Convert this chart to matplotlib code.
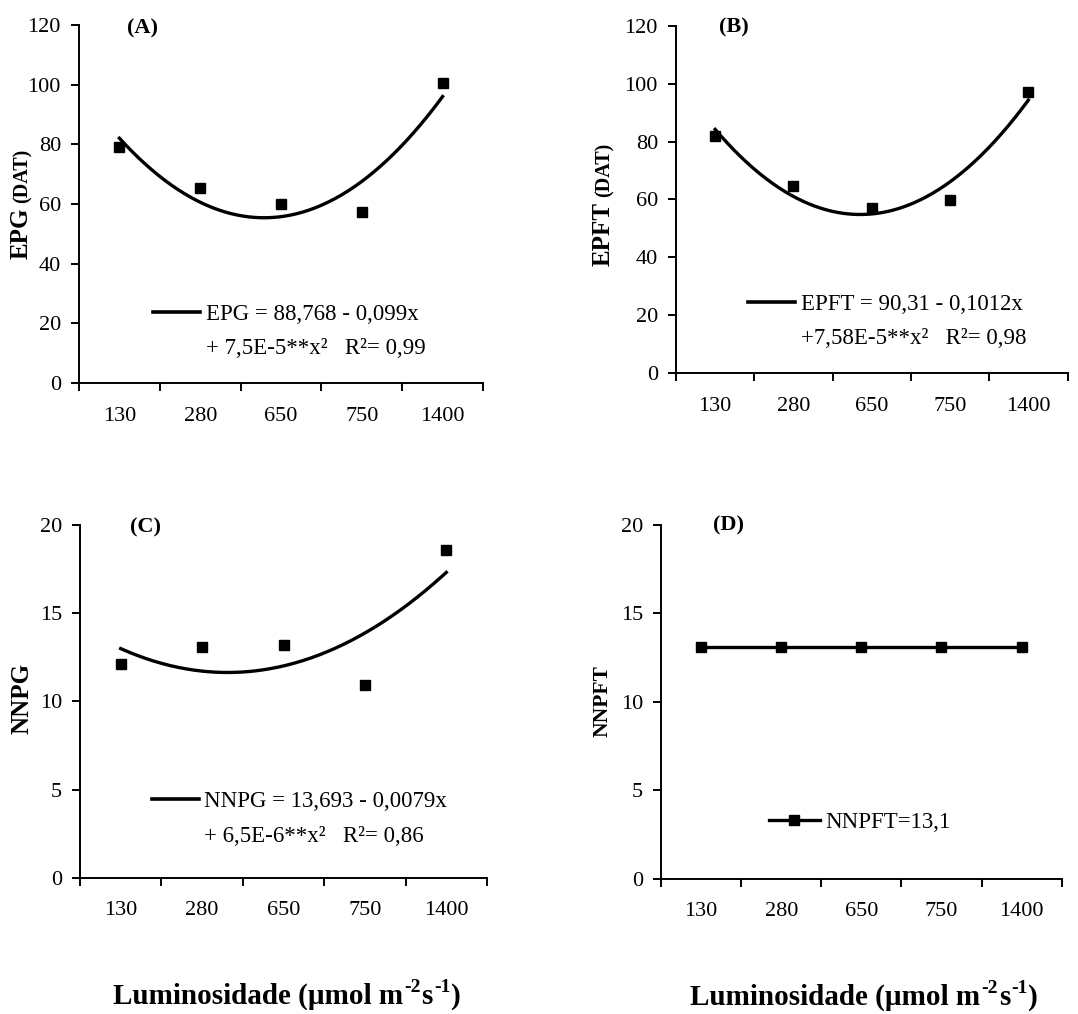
import numpy as np
import matplotlib
matplotlib.use('Agg')
import matplotlib.pyplot as plt
from matplotlib.lines import Line2D

plt.rcParams['font.family'] = 'Liberation Serif'

# Light levels (categories) and observed means
luz = ['130', '280', '650', '750', '1400']
epg = [79.0, 65.3, 60.0, 57.2, 100.5]
epft = [82.1, 64.7, 57.0, 59.8, 97.2]
nnpg = [12.1, 13.1, 13.2, 10.9, 18.6]
nnpft = [13.1, 13.1, 13.1, 13.1, 13.1]

eq_epg = ['EPG = 88,768 - 0,099x', '+ 7,5E-5**x²   R²= 0,99']
eq_epft = ['EPFT = 90,31 - 0,1012x', '+7,58E-5**x²   R²= 0,98']
eq_nnpg = ['NNPG = 13,693 - 0,0079x', '+ 6,5E-6**x²   R²= 0,86']
eq_nnpft = 'NNPFT=13,1'

W, H = 1078, 1014
fig = plt.figure(figsize=(W / 100, H / 100), dpi=100)
renderer = fig.canvas.get_renderer()


def px_axes(left, bottom, right, top):
    return fig.add_axes([left / W, 1 - bottom / H, (right - left) / W, (bottom - top) / H])


def style(ax, ymax, ystep, letter, lx, ly):
    for s in ['top', 'right']:
        ax.spines[s].set_visible(False)
    for s in ['left', 'bottom']:
        ax.spines[s].set_linewidth(1.4)
    ax.set_xlim(0.5, 5.5)
    ax.set_ylim(0, ymax)
    ax.set_yticks(np.arange(0, ymax + 1, ystep))
    ax.set_xticks(np.arange(0.5, 6, 1.0))
    ax.set_xticklabels([])
    ax.set_xticks(np.arange(1, 6), minor=True)
    ax.set_xticklabels(luz, minor=True)
    ax.tick_params(axis='x', which='major', direction='out', length=6, width=1.4)
    ax.tick_params(axis='x', which='minor', length=0, pad=17, labelsize=16)
    ax.tick_params(axis='y', direction='out', length=6, width=1.4, pad=7, labelsize=16)
    ax.text(lx, ly, letter, transform=ax.transAxes, fontsize=16, fontweight='bold',
            ha='left', va='center')


def fit_panel(ax, y, eq, lx, ly):
    idx = np.arange(1, 6)
    ax.plot(idx, y, 's', color='black', markersize=7, zorder=3)
    coef = np.polyfit(idx, y, 2)
    xs = np.linspace(1, 5, 200)
    ax.plot(xs, np.polyval(coef, xs), color='black', lw=2.4)
    handles = [Line2D([], [], color='black', lw=2.6), Line2D([], [], color='none')]
    ax.legend(handles, eq, loc='upper left', bbox_to_anchor=(lx, ly), frameon=False,
              fontsize=16.5, handlelength=2.05, handletextpad=0.25, labelspacing=0.6,
              borderpad=0, borderaxespad=0)


axA = px_axes(79, 383, 483, 25)
fit_panel(axA, epg, eq_epg, 0.183, 0.222)
style(axA, 120, 20, '(A)', 0.119, 0.99)

axB = px_axes(676, 373, 1067.5, 26)
fit_panel(axB, epft, eq_epft, 0.185, 0.229)
style(axB, 120, 20, '(B)', 0.11, 0.997)

axC = px_axes(80, 877.7, 487, 525)
fit_panel(axC, nnpg, eq_nnpg, 0.176, 0.246)
style(axC, 20, 5, '(C)', 0.123, 0.994)

axD = px_axes(661, 878.7, 1061.7, 524.7)
axD.plot(np.arange(1, 6), nnpft, '-s', color='black', lw=2.4, markersize=7)
axD.legend([Line2D([], [], color='black', lw=2.4, marker='s', markersize=7)], [eq_nnpft],
           loc='center left', bbox_to_anchor=(0.27, 0.158), frameon=False, fontsize=16.5,
           handlelength=2.2, handletextpad=0.25, borderpad=0, borderaxespad=0)
style(axD, 20, 5, '(D)', 0.13, 0.999)


def ylab(x, y, main, sub=None, size=18, subsize=14.5):
    t = fig.text(x / W, 1 - y / H, main, rotation=90, rotation_mode='anchor',
                 ha='left', va='baseline', fontsize=size, fontweight='bold')
    if sub:
        bb = t.get_window_extent(renderer)
        fig.text(x / W, (bb.y1 + 5) / H, sub, rotation=90, rotation_mode='anchor',
                 ha='left', va='baseline', fontsize=subsize, fontweight='bold')


ylab(28, 259, 'EPG', '(DAT)')
ylab(610, 266, 'EPFT', '(DAT)')
ylab(28, 734, 'NNPG')
ylab(608, 737, 'NNPFT', size=15.5)


def xlab(x, y, size=21, supsize=14):
    # sequence of (text, is_superscript)
    parts = [('Luminosidade (µmol m', False), ('-2', True), ('s', False),
             ('-1', True), (')', False)]
    cur = x
    base = 1 - y / H
    for txt, sup in parts:
        yy = base + (0.42 * size * 100 / 72) / H if sup else base
        t = fig.text(cur / W, yy, txt, fontsize=supsize if sup else size,
                     fontweight='bold', ha='left', va='baseline')
        cur = t.get_window_extent(renderer).x1 + 1


xlab(113, 1004)
xlab(690, 1005)

fig.savefig('out.png', dpi=100)
